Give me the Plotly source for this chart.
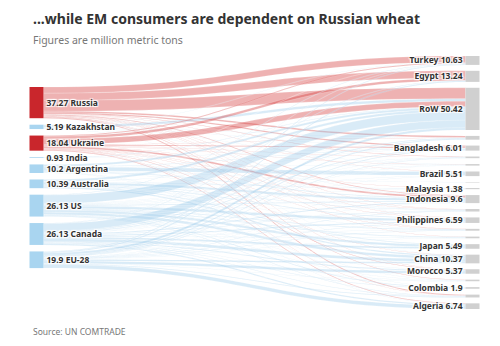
import plotly.graph_objects as go

# ---------------- data ----------------
sources = ["Russia", "Kazakhstan", "Ukraine", "India", "Argentina",
           "Australia", "US", "Canada", "EU-28"]
source_values = [37.27, 5.19, 18.04, 0.93, 10.2, 10.39, 26.13, 26.13, 19.9]

# right column, top to bottom ("" = small unlabeled destinations)
targets = ["Turkey", "Egypt", "RoW", "", "Bangladesh", "", "", "Brazil", "",
           "Malaysia", "Indonesia", "", "Philippines", "", "", "Japan",
           "China", "Morocco", "", "Colombia", "", "Algeria"]
target_values = [10.63, 13.24, 50.42, 4.5, 6.01, 2.0, 1.8, 5.51, 0.15, 1.38,
                 9.6, 3.0, 6.59, 2.2, 2.0, 5.49, 10.37, 5.37, 1.9, 1.9, 3.38, 6.74]

# flows (million metric tons), one row per exporter, columns follow `targets`
flow_russia     = [7.5, 8.5, 12.97, 1.8, 1.6, 0.4, 0.2, 0.1, 0, 0.1, 0.9, 0.3, 0.4, 0.3, 0.2, 0, 0.1, 0.3, 0.5, 0, 1.1, 0]
flow_kazakhstan = [0.4, 0, 3.2, 0.3, 0.2, 0.2, 0.29, 0, 0, 0, 0.3, 0, 0, 0, 0, 0, 0.3, 0, 0, 0, 0, 0]
flow_ukraine    = [1.0, 3.2, 6.5, 0.4, 1.2, 0.3, 0.3, 0, 0, 0.2, 2.0, 0.3, 0.5, 0.2, 0, 0, 0.2, 0.6, 0.2, 0, 0.3, 0.64]
flow_india      = [0, 0, 0.5, 0, 0.3, 0.13, 0, 0, 0, 0, 0, 0, 0, 0, 0, 0, 0, 0, 0, 0, 0, 0]
flow_argentina  = [0.2, 0, 2.5, 0, 0.4, 0, 0.2, 4.6, 0.15, 0, 1.1, 0.2, 0, 0, 0, 0, 0, 0.1, 0.3, 0.2, 0.05, 0.2]
flow_australia  = [0, 0, 2.6, 0, 0.29, 0, 0, 0, 0, 0.6, 2.8, 0.6, 1.0, 0.2, 0, 0.8, 1.5, 0, 0, 0, 0, 0]
flow_us         = [0.5, 0, 10.5, 0, 0.13, 0.3, 0.3, 0.4, 0, 0.2, 1.0, 0.3, 3.0, 0.8, 0.8, 2.7, 3.0, 0.2, 0.5, 0.8, 0.7, 0]
flow_canada     = [0.4, 0.4, 8.83, 1.0, 0.9, 0.3, 0.3, 0.3, 0, 0.2, 1.2, 0.8, 1.3, 0.2, 0.6, 1.9, 3.5, 1.0, 0.3, 0.7, 0.5, 1.5]
flow_eu         = [0.63, 1.14, 2.82, 1.0, 0.99, 0.37, 0.21, 0.11, 0, 0.08, 0.3, 0.5, 0.39, 0.5, 0.4, 0.09, 1.77, 3.17, 0.1, 0.2, 0.73, 4.4]
flows = [flow_russia, flow_kazakhstan, flow_ukraine, flow_india, flow_argentina,
         flow_australia, flow_us, flow_canada, flow_eu]

red_sources = {"Russia", "Ukraine"}

# ---------------- geometry / style ----------------
W, H_FIG = 500, 346
DOM_TOP, DOM_H = 56, 253          # px
PAD = 5.9                         # right-column gap (drives plotly's scale)
LEFT_GAP = 6.5                    # left-column gap
THICK = 14
LEFT_X, RIGHT_X = 36.5, 472.5     # node centers, px
LEFT_OFFSET = 31                  # px from domain top

nS, nT = len(sources), len(targets)
right_vals = [sum(row[j] for row in flows) for j in range(nT)]
left_vals = [sum(row) for row in flows]
total = sum(left_vals)
ky = (DOM_H - (nT - 1) * PAD) / total

def centers(vals, offset, gap):
    out, y = [], offset
    for v in vals:
        h = v * ky
        out.append((y + h / 2) / DOM_H)
        y += h + gap
    return out

labels = [f"{v} {s}" for s, v in zip(sources, source_values)] + \
         [(f"{t} {v}" if t else "") for t, v in zip(targets, target_values)]
node_x = [LEFT_X / W] * nS + [RIGHT_X / W] * nT
node_y = centers(left_vals, LEFT_OFFSET, LEFT_GAP) + centers(right_vals, 0, PAD)
node_colors = [("#c9262c" if s in red_sources else "#a9d5f0") for s in sources] + ["#d0d0d0"] * nT

link_s, link_t, link_v, link_c = [], [], [], []
for i, row in enumerate(flows):
    for j, v in enumerate(row):
        if v > 0:
            link_s.append(i)
            link_t.append(nS + j)
            link_v.append(v)
            link_c.append("rgba(212,62,62,0.40)" if sources[i] in red_sources
                          else "rgba(150,200,232,0.36)")

fig = go.Figure(go.Sankey(
    arrangement="fixed",
    domain=dict(x=[0, 1], y=[1 - (DOM_TOP + DOM_H) / H_FIG, 1 - DOM_TOP / H_FIG]),
    node=dict(label=labels, x=node_x, y=node_y, pad=PAD, thickness=THICK,
              color=node_colors, line=dict(width=0)),
    link=dict(source=link_s, target=link_t, value=link_v, color=link_c,
              line=dict(color="rgba(255,255,255,0.6)", width=0.3)),
    textfont=dict(family="Noto Sans", size=8.5, color="#333333", weight="bold"),
))

fig.update_layout(
    width=W, height=H_FIG,
    margin=dict(l=0, r=0, t=0, b=0),
    paper_bgcolor="white",
    annotations=[
        dict(text="<b>...while EM consumers are dependent on Russian wheat</b>",
             x=31 / W, y=1 - 18 / H_FIG, xref="paper", yref="paper",
             xanchor="left", yanchor="middle", showarrow=False,
             font=dict(family="Noto Sans", size=14, color="#333333")),
        dict(text="Figures are million metric tons",
             x=31 / W, y=1 - 40 / H_FIG, xref="paper", yref="paper",
             xanchor="left", yanchor="middle", showarrow=False,
             font=dict(family="Noto Sans", size=10.5, color="#777777")),
        dict(text="Source: UN COMTRADE",
             x=31 / W, y=1 - 331 / H_FIG, xref="paper", yref="paper",
             xanchor="left", yanchor="middle", showarrow=False,
             font=dict(family="Noto Sans", size=8.5, color="#777777")),
    ],
)

fig.write_html("out.html")
